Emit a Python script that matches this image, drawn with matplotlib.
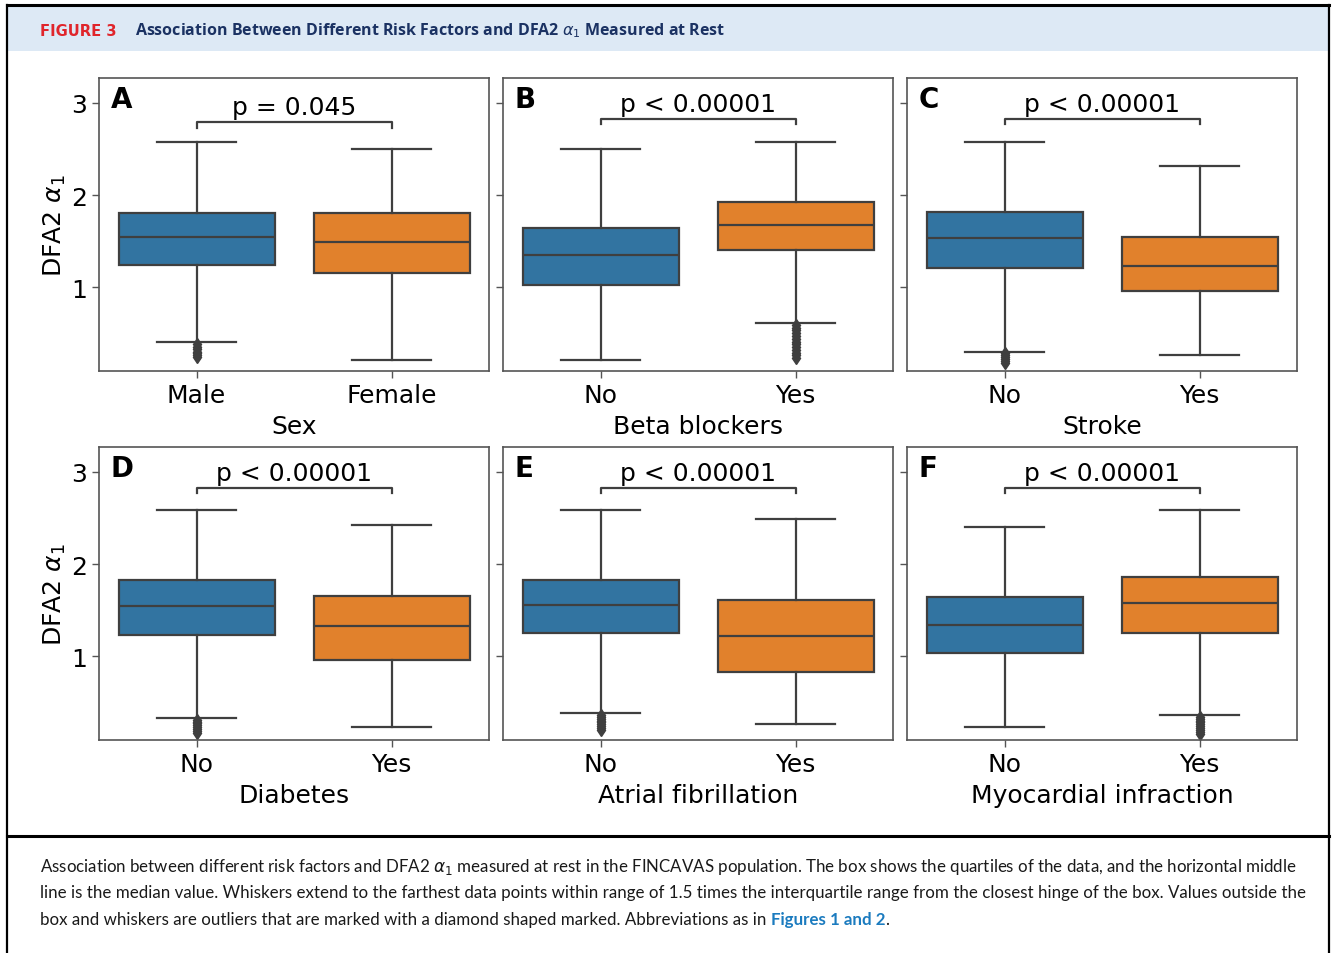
import numpy as np
import matplotlib.pyplot as plt
from matplotlib.patches import Rectangle
from matplotlib.lines import Line2D

plt.rcParams['font.family'] = 'DejaVu Sans'

# ---- data ----
panels = ["A", "B", "C", "D", "E", "F"]
factors = ["Sex", "Beta blockers", "Stroke", "Diabetes", "Atrial fibrillation", "Myocardial infraction"]
groups = [["Male", "Female"], ["No", "Yes"], ["No", "Yes"],
          ["No", "Yes"], ["No", "Yes"], ["No", "Yes"]]
p_texts = ["p = 0.045", "p < 0.00001", "p < 0.00001",
           "p < 0.00001", "p < 0.00001", "p < 0.00001"]

# lower whisker, Q1, median, Q3, upper whisker
box_g1 = [
    [0.41, 1.24, 1.54, 1.80, 2.58],
    [0.21, 1.02, 1.35, 1.64, 2.50],
    [0.30, 1.21, 1.53, 1.82, 2.58],
    [0.33, 1.23, 1.54, 1.83, 2.59],
    [0.38, 1.25, 1.55, 1.83, 2.59],
    [0.23, 1.03, 1.34, 1.64, 2.40],
]
box_g2 = [
    [0.21, 1.15, 1.49, 1.80, 2.50],
    [0.61, 1.40, 1.67, 1.92, 2.58],
    [0.26, 0.96, 1.23, 1.54, 2.32],
    [0.23, 0.96, 1.33, 1.65, 2.42],
    [0.26, 0.83, 1.22, 1.61, 2.49],
    [0.36, 1.25, 1.58, 1.86, 2.59],
]
fliers_g1 = [
    [0.38, 0.35, 0.33, 0.30, 0.28, 0.26, 0.24],
    [],
    [0.28, 0.26, 0.24, 0.22, 0.20, 0.18],
    [0.31, 0.29, 0.27, 0.25, 0.23, 0.21, 0.19, 0.17],
    [0.36, 0.34, 0.32, 0.30, 0.28, 0.26, 0.24, 0.22, 0.20],
    [],
]
fliers_g2 = [
    [],
    [0.59, 0.56, 0.53, 0.50, 0.47, 0.44, 0.41, 0.38,
     0.35, 0.32, 0.29, 0.26, 0.23],
    [],
    [],
    [],
    [0.34, 0.32, 0.30, 0.28, 0.26, 0.24, 0.22, 0.20, 0.18, 0.16],
]
bracket_y = [2.79, 2.83, 2.83, 2.83, 2.83, 2.83]

colors = ["#3274a1", "#e1812c"]
edge = "#3f3f3f"

fig = plt.figure(figsize=(13.36, 9.54), dpi=100)

# frame, header band, caption separator
fig.patches.append(Rectangle((8/1336, 1-52/954), 1322/1336, 44/954,
                             transform=fig.transFigure, facecolor="#dde9f5",
                             edgecolor="none", zorder=0))
for xs, ys, lw in [([7/1336, 1329/1336], [1-6/954, 1-6/954], 2.2),
                   ([7/1336, 7/1336], [0, 1-6/954], 1.6),
                   ([1329/1336, 1329/1336], [0, 1-6/954], 1.6),
                   ([7/1336, 1329/1336], [1-837/954, 1-837/954], 2.2)]:
    fig.lines.append(Line2D(xs, ys, transform=fig.transFigure, color="black", lw=lw))

fig.text(40/1336, 1-31/954, "FIGURE 3", color="#e0252b", fontsize=10.6,
         fontweight="bold", va="center", family="DejaVu Sans")
fig.text(135/1336, 1-31/954, r"Association Between Different Risk Factors and DFA2 $\alpha_1$ Measured at Rest",
         color="#1b3263", fontsize=11.5, fontweight="bold", va="center", family="Open Sans")

lefts = [99, 503, 907]
tops = [79, 448]
w_px, h_px = 390, 293

for i in range(6):
    r, c = divmod(i, 3)
    ax = fig.add_axes([lefts[c]/1336, 1-(tops[r]+h_px)/954, w_px/1336, h_px/954])
    stats = []
    for b, fl, lab in [(box_g1[i], fliers_g1[i], groups[i][0]),
                       (box_g2[i], fliers_g2[i], groups[i][1])]:
        stats.append(dict(whislo=b[0], q1=b[1], med=b[2], q3=b[3], whishi=b[4],
                          fliers=fl, label=lab))
    bp = ax.bxp(stats, positions=[0, 1], widths=0.8, capwidths=0.41, patch_artist=True,
                boxprops=dict(edgecolor=edge, linewidth=1.6),
                medianprops=dict(color=edge, linewidth=1.6),
                whiskerprops=dict(color=edge, linewidth=1.6),
                capprops=dict(color=edge, linewidth=1.6),
                flierprops=dict(marker="d", markerfacecolor=edge, markeredgecolor=edge,
                                markersize=6))
    for patch, col in zip(bp["boxes"], colors):
        patch.set_facecolor(col)

    ax.set_xlim(-0.5, 1.5)
    ax.set_ylim(0.09, 3.27)
    ax.set_yticks([1, 2, 3])
    ax.tick_params(labelsize=18, color="#555555", length=5, width=1)
    if c == 0:
        ax.set_ylabel(r"DFA2 $\alpha_1$", fontsize=18, labelpad=2)
    else:
        ax.set_yticklabels([])
    ax.set_xlabel(factors[i], fontsize=18, labelpad=5)
    for s in ax.spines.values():
        s.set_color("#555555")
        s.set_linewidth(1.2)

    y0 = bracket_y[i]
    ax.plot([0, 0, 1, 1], [y0 - 0.06, y0, y0, y0 - 0.06], color=edge, lw=1.6)
    ax.text(0.5, y0 + 0.03, p_texts[i], ha="center", va="bottom", fontsize=18)
    ax.text(0.03, 0.975, panels[i], transform=ax.transAxes, ha="left", va="top",
            fontsize=20, fontweight="bold")

# caption
cap_fs = 12.2
cap_lines = [
    r"Association between different risk factors and DFA2 $\alpha_1$ measured at rest in the FINCAVAS population. The box shows the quartiles of the data, and the horizontal middle",
    "line is the median value. Whiskers extend to the farthest data points within range of 1.5 times the interquartile range from the closest hinge of the box. Values outside the",
    "box and whiskers are outliers that are marked with a diamond shaped marked. Abbreviations as in ",
]
cap_y = [867, 893, 920]
for txt, y in zip(cap_lines, cap_y):
    t = fig.text(40/1336, 1-y/954, txt, fontsize=cap_fs, va="center", family="Lato", color="#1a1a1a")
fig.canvas.draw()
bb = t.get_window_extent()
t2 = fig.text(bb.x1/1336, 1-920/954, "Figures 1 and 2", fontsize=cap_fs, va="center",
              family="Lato", color="#1b7bbf", fontweight="bold")
fig.canvas.draw()
bb2 = t2.get_window_extent()
fig.text(bb2.x1/1336, 1-920/954, ".", fontsize=cap_fs, va="center", family="Lato", color="#1a1a1a")

fig.savefig("out.png", dpi=100)
